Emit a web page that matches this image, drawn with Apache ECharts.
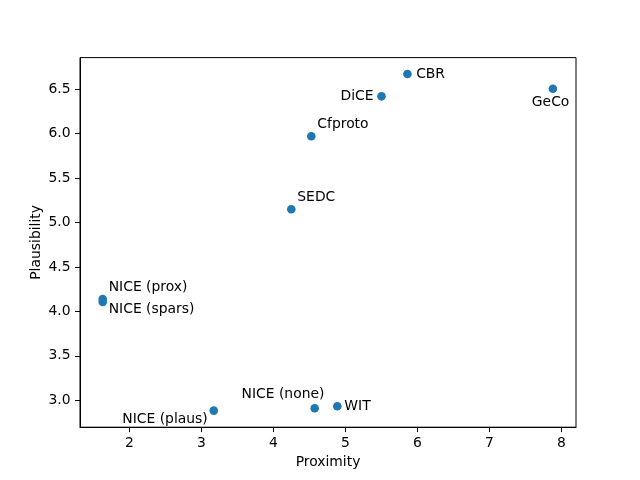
<!DOCTYPE html>
<html>
<head>
<meta charset="utf-8">
<script src="https://cdn.jsdelivr.net/npm/echarts@6/dist/echarts.min.js"></script>
<style>html,body{margin:0;padding:0;background:#fff}#c{width:640px;height:480px}</style>
</head>
<body>
<div id="c"></div>
<script>
const methods = ['CBR','DiCE','GeCo','Cfproto','SEDC','NICE (prox)','NICE (spars)','NICE (plaus)','NICE (none)','WIT'];
const proximity = [5.86, 5.50, 7.88, 4.525, 4.247, 1.628, 1.628, 3.17, 4.572, 4.886];
const plausibility = [6.672, 6.421, 6.507, 5.971, 5.149, 4.14, 4.106, 2.883, 2.91, 2.932];
const xTicks = [2, 3, 4, 5, 6, 7, 8];
const yTicks = [3.0, 3.5, 4.0, 4.5, 5.0, 5.5, 6.0, 6.5];

// label placement (style only)
const labelPlace = {
  'CBR': {align:'left', offset:[8.7, 0.5]},
  'DiCE': {align:'right', offset:[-8, 0.5]},
  'GeCo': {align:'center', offset:[-2.3, 14]},
  'Cfproto': {align:'left', offset:[6, -12]},
  'SEDC': {align:'left', offset:[6, -12.3]},
  'NICE (prox)': {align:'left', offset:[6, -11.5]},
  'NICE (spars)': {align:'left', offset:[6, 7.5]},
  'NICE (plaus)': {align:'right', offset:[-6, 9]},
  'NICE (none)': {align:'center', offset:[-31.7, -14]},
  'WIT': {align:'left', offset:[7, 0.5]}
};

const FONT = 'DejaVu Sans';
const FS = 13.9;

const data = methods.map((m, i) => ({
  name: m,
  value: [proximity[i], plausibility[i]],
  label: {
    show: true,
    position: 'inside',
    formatter: m,
    align: labelPlace[m].align,
    verticalAlign: 'middle',
    offset: labelPlace[m].offset,
    color: '#000',
    fontFamily: FONT,
    fontSize: FS
  }
}));

const chart = echarts.init(document.getElementById('c'), null, {renderer: 'canvas'});
chart.setOption({
  animation: false,
  backgroundColor: '#fff',
  grid: {left: 80, right: 64, top: 57.6, bottom: 52.8, show: true, borderColor: '#000', borderWidth: 1, backgroundColor: 'transparent'},
  xAxis: {
    type: 'value', min: 1.3125, max: 8.201,
    name: 'Proximity', nameLocation: 'middle', nameGap: 28, nameMoveOverlap: false,
    nameTextStyle: {fontFamily: FONT, fontSize: FS, color: '#000'},
    axisLine: {show: true, onZero: false, lineStyle: {color: '#000', width: 1}},
    axisTick: {show: true, length: 4.9, customValues: xTicks, lineStyle: {color: '#000', width: 1}},
    axisLabel: {customValues: xTicks, margin: 9, fontFamily: FONT, fontSize: FS, color: '#000', formatter: v => String(Math.round(v))},
    splitLine: {show: false}
  },
  yAxis: {
    type: 'value', min: 2.696, max: 6.857,
    name: 'Plausibility', nameLocation: 'middle', nameGap: 37, nameRotate: 90, nameMoveOverlap: false,
    nameTextStyle: {fontFamily: FONT, fontSize: FS, color: '#000'},
    axisLine: {show: true, onZero: false, lineStyle: {color: '#000', width: 1}},
    axisTick: {show: true, length: 4.9, customValues: yTicks, lineStyle: {color: '#000', width: 1}},
    axisLabel: {customValues: yTicks, margin: 9.5, fontFamily: FONT, fontSize: FS, color: '#000', formatter: v => v.toFixed(1)},
    splitLine: {show: false}
  },
  series: [{
    type: 'scatter',
    symbol: 'circle',
    symbolSize: 8.6,
    itemStyle: {color: '#1f77b4', opacity: 1},
    emphasis: {disabled: true},
    data: data
  }]
});
</script>
</body>
</html>
